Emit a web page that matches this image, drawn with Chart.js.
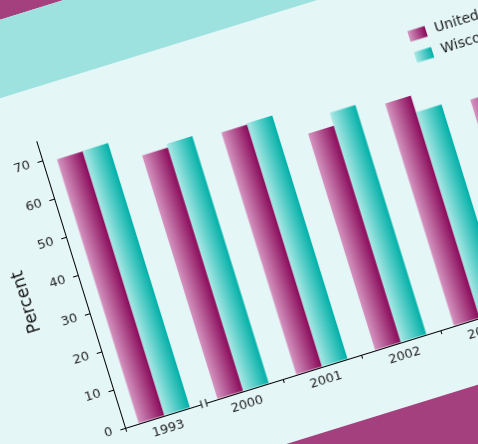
<!DOCTYPE html>
<html>
<head>
<meta charset="utf-8">
<script src="https://cdn.jsdelivr.net/npm/chart.js@4.4.0/dist/chart.umd.min.js"></script>
<style>
  html, body { margin: 0; padding: 0; width: 478px; height: 444px; overflow: hidden; background: #e5f6f6; }
  #sheet { position: absolute; left: 125px; top: 428px; width: 0; height: 0;
           transform: rotate(-17.2deg); transform-origin: 0 0; }
  .band { position: absolute; left: -1000px; width: 3000px; }
  #plot { position: absolute; left: -80px; top: -315px; width: 600px; height: 355px; }
</style>
</head>
<body>
<div id="sheet">
  <div class="band" style="top:-1500px;height:1073px;background:#a5407e"></div>
  <div class="band" style="top:-427px;height:75px;background:#9ee2e0"></div>
  <div class="band" style="top:63px;height:1000px;background:#a5407e"></div>
  <div id="plot"><canvas id="c" width="600" height="355"></canvas></div>
</div>
<script>
// Share of households, by year
const years = ['1993', '2000', '2001', '2002', '2003', '2004'];
const unitedStates = [69.4, 64.0, 63.6, 56.9, 58.4, 53.0];
const wisconsin = [69.5, 64.9, 63.9, 60.3, 54.0, 52.5];
const seriesNames = ['United States', 'Wisconsin'];
const yMin = 0, yMax = 75, yStep = 10;

const PAPER = '#e5f6f6';
const US_STOPS = ['#d494c0', '#8a0a5a'];
const WI_STOPS = ['#aae8e5', '#00b0a8'];
const CAT_PCT = 0.65;

Chart.defaults.font.family = '"DejaVu Sans", sans-serif';
Chart.defaults.color = '#222';

// Horizontal gradient across each bar, worked out from the category scale
function barFill(stops) {
  return (c) => {
    const chart = c.chart, xs = chart.scales.x;
    if (!xs || c.dataIndex === undefined || !isFinite(xs.left)) return stops[1];
    const cw = (xs.right - xs.left) / chart.data.labels.length;
    const bw = cw * CAT_PCT / 2;
    const left = xs.getPixelForValue(c.dataIndex) - bw + c.datasetIndex * bw;
    const g = chart.ctx.createLinearGradient(left, 0, left + bw, 0);
    g.addColorStop(0, stops[0]);
    g.addColorStop(1, stops[1]);
    return g;
  };
}

// Legend boxes in the upper right of the plot
const cornerLegend = {
  id: 'cornerLegend',
  afterDraw(chart) {
    const { ctx, chartArea } = chart;
    ctx.save();
    chart.data.datasets.forEach((ds, i) => {
      const cx = chartArea.left + 396, cy = chartArea.bottom - 290 + i * 22;
      const g = ctx.createLinearGradient(cx - 9, 0, cx + 9, 0);
      g.addColorStop(0, ds.stops[0]);
      g.addColorStop(1, ds.stops[1]);
      ctx.fillStyle = g;
      ctx.fillRect(cx - 9, cy - 5.5, 18, 11);
      ctx.fillStyle = '#1a1a1a';
      ctx.font = '14px "DejaVu Sans", sans-serif';
      ctx.textAlign = 'left';
      ctx.textBaseline = 'middle';
      ctx.fillText(ds.label, cx + 18, cy);
    });
    ctx.restore();
  }
};

// Break marks on the x axis between 1993 and 2000
const axisBreak = {
  id: 'axisBreak',
  afterDraw(chart) {
    const { ctx, chartArea } = chart, xs = chart.scales.x;
    const bx = (xs.getPixelForValue(0) + xs.getPixelForValue(1)) / 2;
    const y = chartArea.bottom;
    ctx.save();
    ctx.fillStyle = PAPER;
    ctx.fillRect(bx - 2.5, y - 2, 5, 5);
    ctx.strokeStyle = '#000';
    ctx.lineWidth = 1;
    ctx.beginPath();
    [-2.5, 2.5].forEach(dx => {
      ctx.moveTo(bx + dx, y - 4);
      ctx.lineTo(bx + dx, y + 4);
    });
    ctx.stroke();
    ctx.restore();
  }
};

new Chart(document.getElementById('c'), {
  type: 'bar',
  data: {
    labels: years,
    datasets: [
      { label: seriesNames[0], data: unitedStates, stops: US_STOPS, backgroundColor: barFill(US_STOPS) },
      { label: seriesNames[1], data: wisconsin, stops: WI_STOPS, backgroundColor: barFill(WI_STOPS) }
    ]
  },
  options: {
    responsive: false,
    animation: false,
    devicePixelRatio: 1,
    layout: { padding: { top: 12, right: 25, left: 0, bottom: 0 } },
    datasets: { bar: { categoryPercentage: CAT_PCT, barPercentage: 1, borderWidth: 0 } },
    plugins: { legend: { display: false }, tooltip: { enabled: false } },
    scales: {
      x: {
        afterFit: (s) => { s.height = 40; },
        grid: {
          offset: true, drawOnChartArea: false, tickLength: 4,
          tickColor: (c) => c.index === 1 ? 'rgba(0,0,0,0)' : '#000'
        },
        border: { display: true, color: '#000', width: 1 },
        ticks: { font: { size: 13 }, color: '#222', padding: 2, maxRotation: 0 }
      },
      y: {
        min: yMin, max: yMax,
        afterFit: (s) => { s.width = 80; },
        grid: { drawOnChartArea: false, tickLength: 5, tickColor: '#000' },
        border: { display: true, color: '#000', width: 1 },
        ticks: { stepSize: yStep, includeBounds: false, font: { size: 13 }, color: '#222', padding: 8 },
        title: { display: true, text: 'Percent', font: { size: 17 }, color: '#111', padding: { top: 13, bottom: 0 } }
      }
    }
  },
  plugins: [cornerLegend, axisBreak]
});
</script>
</body>
</html>
